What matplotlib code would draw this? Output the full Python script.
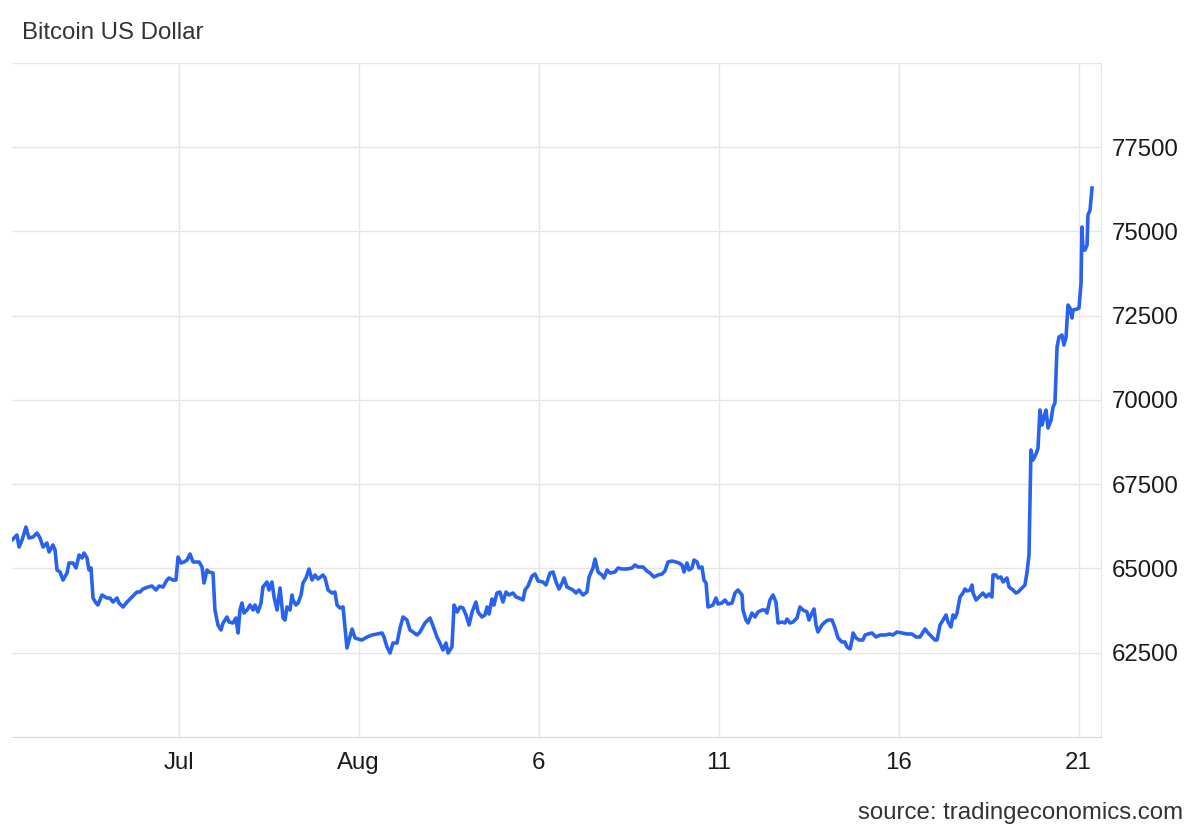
import numpy as np
import matplotlib
matplotlib.use('Agg')
import matplotlib.pyplot as plt

plt.rcParams['font.family'] = ['Liberation Sans', 'DejaVu Sans']

# hours since the first reading, and the price (USD)
horas = [
    0, 3.3, 4.7, 6.7, 9.3, 11.3, 14, 16.7, 18.7, 20.7, 23.3, 24.7, 27.3, 28.7, 30, 32, 34, 36.7, 38, 40.7,
    42.7, 44.7, 46.7, 48, 50, 51.3, 52.7, 54, 56, 57.3, 60, 63.3, 65.3, 67.3, 70, 71.3, 74, 76.7, 80, 83.3,
    85.3, 87.3, 90.7, 93.3, 96, 98, 100.7, 103.3, 104.7, 107.3, 109.3, 110.7, 112.7, 114.7, 116.7, 118.7, 120.7, 123.3, 124.7, 126.7,
    128, 130, 131.3, 134, 135.3, 137.3, 139.3, 140.7, 143.3, 144.7, 147.3, 149.3, 150.7, 152, 153.3, 154.7, 156.7, 158.7, 160.7, 162,
    164, 166, 167.3, 170, 171.3, 173.3, 174.7, 176.7, 178.7, 180.7, 182, 183.3, 185.3, 186.7, 187.3, 189.3, 190.7, 192.7, 194, 196,
    198, 200, 202, 204, 207.3, 208.7, 210.7, 213.3, 215.3, 216.7, 218.7, 220.7, 222, 223.3, 224.7, 226.7, 228.7, 230.7, 233.3, 236.7,
    240, 243.3, 246.7, 248, 250, 252, 254, 256.7, 258.7, 260.7, 263.3, 265.3, 267.3, 270, 272, 275.3, 278.7, 280.7, 283.3, 285.3,
    287.3, 289.3, 290.7, 293.3, 294.7, 296.7, 298.7, 300.7, 302.7, 304.7, 306.7, 309.3, 310.7, 313.3, 315.3, 316.7, 318, 320, 321.3, 323.3,
    325.3, 327.3, 329.3, 331.3, 334, 336, 338, 340.7, 342, 344, 346.7, 348.7, 350.7, 354, 356, 358.7, 360.7, 362.7, 364.7, 366.7,
    368, 370, 371.3, 374, 376, 378, 380.7, 383.3, 384.7, 387.3, 388.7, 390.7, 393.3, 394.7, 396.7, 398.7, 402, 404, 406.7, 410,
    413.3, 415.3, 417.3, 420.7, 423.3, 425.3, 428, 430.7, 433.3, 435.3, 437.3, 440, 442.7, 444.7, 446.7, 448, 450, 451.3, 453.3, 454.7,
    456.7, 458, 460, 461.3, 462.7, 464, 466, 467.3, 469.3, 470.7, 473.3, 475.3, 477.3, 480, 482, 484, 486.7, 487.3, 489.3, 490.7,
    493.3, 495.3, 497.3, 500, 502, 503.3, 505.3, 507.3, 509.3, 510.7, 513.3, 515.3, 516.7, 518.7, 520.7, 523.3, 525.3, 527.3, 530, 531.3,
    533.3, 534.7, 536, 537.3, 540, 542, 544, 546.7, 548.7, 550.7, 553.3, 555.3, 556.7, 558.7, 560, 560.7, 562.7, 564.7, 567.3, 568.7,
    570.7, 573.3, 576, 578.7, 582, 585.3, 587.3, 590, 593.3, 596.7, 600, 602.7, 605.3, 608.7, 610.7, 613.3, 615.3, 616.7, 618.7, 620.7,
    622.7, 624, 626, 627.3, 628.7, 630, 632, 634, 635.3, 636.7, 638.7, 640, 640.7, 642.7, 644.7, 647.3, 649.3, 651.3, 653.3, 654,
    656, 657.3, 659.3, 660.7, 663.3, 664.7, 667.3, 669.3, 670.7, 673.3, 675.3, 676.7, 678, 679.3, 680.7, 682.7, 684, 685.3, 686.7, 688,
    689.3, 690.7, 692.7, 694, 695.3, 696.7, 698, 700, 701.3, 702.7, 704, 705.3, 706.7, 707.3, 710, 711.3, 712.7, 713.3, 714, 715.3,
    716.7, 717.3, 718.7, 720,
]
preco = [
    65845, 65993, 65637, 65845, 66231, 65904, 65934, 66053, 65904, 65637, 65756, 65489, 65697, 65548, 64955, 64896, 64658, 64866, 65163, 65163,
    65014, 65400, 65311, 65459, 65311, 64955, 65014, 64124, 63976, 63916, 64213, 64124, 64124, 64005, 64124, 63976, 63857, 64005, 64154, 64302,
    64302, 64391, 64451, 64480, 64361, 64480, 64451, 64658, 64718, 64658, 64658, 65341, 65163, 65192, 65252, 65430, 65192, 65192, 65192, 65044,
    64569, 64955, 64896, 64866, 63768, 63323, 63175, 63382, 63560, 63412, 63382, 63531, 63086, 63768, 63976, 63679, 63768, 63916, 63768, 63916,
    63709, 63976, 64451, 64599, 64361, 64599, 64154, 63768, 64421, 63531, 63471, 63857, 63768, 64213, 64065, 63916, 63976, 64213, 64569, 64718,
    64985, 64658, 64807, 64688, 64807, 64718, 64361, 64272, 64302, 63916, 63827, 63857, 63264, 62641, 62878, 63204, 62937, 62908, 62878, 62967,
    63026, 63056, 63086, 62967, 62670, 62492, 62789, 62789, 63234, 63560, 63471, 63175, 63115, 63026, 63115, 63382, 63531, 63293, 62967, 62789,
    62581, 62789, 62492, 62670, 63916, 63709, 63857, 63827, 63620, 63323, 63709, 64005, 63709, 63560, 63620, 63857, 63649, 64094, 63916, 64272,
    64302, 64005, 64302, 64213, 64272, 64154, 64124, 64065, 64361, 64480, 64777, 64836, 64629, 64599, 64510, 64866, 64896, 64599, 64391, 64569,
    64718, 64451, 64421, 64361, 64272, 64361, 64213, 64302, 64747, 65014, 65281, 64896, 64807, 64718, 64955, 64866, 64896, 65014, 64985, 64985,
    65014, 65103, 65044, 65044, 64925, 64866, 64747, 64807, 64836, 64925, 65192, 65222, 65192, 65163, 65103, 64896, 65163, 64955, 65014, 65252,
    65192, 65014, 65044, 64658, 64569, 63857, 63887, 63916, 64124, 63946, 63976, 64065, 63946, 63976, 64272, 64361, 64213, 63768, 63471, 63382,
    63679, 63560, 63709, 63768, 63768, 63679, 64065, 64213, 64005, 63382, 63412, 63382, 63501, 63382, 63412, 63531, 63857, 63768, 63709, 63471,
    63679, 63798, 63323, 63115, 63323, 63412, 63471, 63471, 63234, 62937, 62819, 62819, 62670, 62611, 62878, 63086, 62937, 62878, 62878, 63026,
    63056, 63086, 62967, 63026, 63026, 63056, 63026, 63115, 63086, 63056, 63056, 62967, 62967, 63204, 63086, 62967, 62878, 62878, 63323, 63471,
    63620, 63412, 63264, 63620, 63531, 63679, 64154, 64272, 64391, 64332, 64361, 64510, 64272, 64065, 64154, 64272, 64154, 64243, 64154, 64807,
    64807, 64718, 64747, 64599, 64718, 64451, 64361, 64272, 64302, 64421, 64510, 64896, 65400, 68515, 68219, 68397, 68575, 69702, 69257, 69494,
    69702, 69168, 69405, 69791, 69910, 71571, 71868, 71927, 71631, 71868, 72817, 72728, 72432, 72669, 72699, 72728, 73470, 75132, 74449, 74449,
    74598, 75488, 75636, 76289,
]

tick_horas = [111, 231, 351, 471, 591, 711]
tick_rotulos = ['Jul', 'Aug', '6', '11', '16', '21']
y_ticks = [62500, 65000, 67500, 70000, 72500, 75000, 77500]

cinza = '#e6e6e6'

fig = plt.figure(figsize=(12, 8.32), dpi=100)
ax = fig.add_axes([0.01, 0.1142, 0.9075, 0.8101])

ax.plot(horas, preco, color='#2962ef', linewidth=2.6, solid_joinstyle='round')

ax.set_xlim(0, 726)
ax.set_ylim(60000, 80000)

ax.set_xticks(tick_horas)
ax.set_xticklabels(tick_rotulos)
ax.set_yticks(y_ticks)
ax.yaxis.tick_right()
ax.tick_params(axis='both', length=0, labelsize=17.3, colors='#1a1a1a')
ax.tick_params(axis='x', pad=11)
ax.tick_params(axis='y', pad=8)

ax.grid(True, color=cinza, linewidth=1)
ax.axhline(80000, color=cinza, linewidth=1)

ax.spines['left'].set_visible(False)
ax.spines['top'].set_visible(False)
ax.spines['right'].set_color(cinza)
ax.spines['bottom'].set_color('#d8d8d8')

fig.text(22 / 1200, 1 - 33 / 832, 'Bitcoin US Dollar', fontsize=17.3, color='#333333',
         ha='left', va='center')
fig.text(1183 / 1200, 1 - 813 / 832, 'source: tradingeconomics.com', fontsize=17.3,
         color='#333333', ha='right', va='center')

plt.savefig('out.png', dpi=100)
